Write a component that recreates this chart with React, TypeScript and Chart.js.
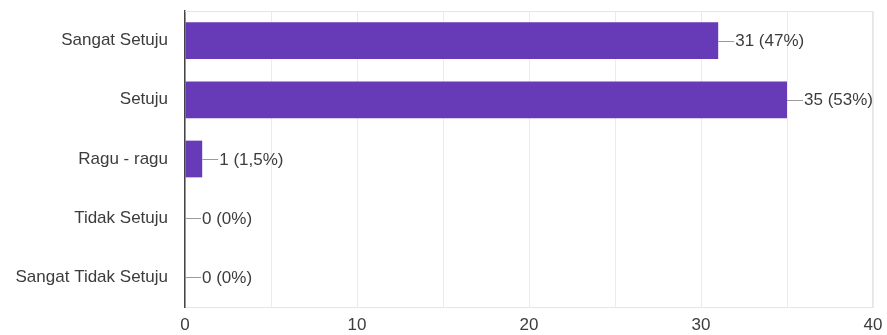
import React, { useEffect, useRef } from "react";
import { Chart, registerables } from "chart.js";

Chart.register(...registerables);

const categories = ["Sangat Setuju", "Setuju", "Ragu - ragu", "Tidak Setuju", "Sangat Tidak Setuju"];
const counts = [31, 35, 1, 0, 0];
const percentLabels = ["47%", "53%", "1,5%", "0%", "0%"];
const xTicks = [0, 10, 20, 30, 40];

const FONT = "Arial, 'Liberation Sans', sans-serif";
const TEXT = "#3c3c3c";

export default function App() {
  const ref = useRef<HTMLCanvasElement | null>(null);
  useEffect(() => {
    document.body.style.margin = "0";
    const canvas = ref.current;
    if (!canvas) return;
    const labelPlugin = {
      id: "valueLabels",
      beforeDatasetsDraw(chart: any) {
        const { ctx, chartArea } = chart;
        ctx.save();
        ctx.strokeStyle = "#e6e6e6";
        ctx.lineWidth = 1;
        ctx.beginPath();
        ctx.moveTo(chartArea.left, chartArea.top + 0.5);
        ctx.lineTo(chartArea.right, chartArea.top + 0.5);
        ctx.moveTo(chartArea.right - 0.5, chartArea.top);
        ctx.lineTo(chartArea.right - 0.5, chartArea.bottom);
        ctx.stroke();
        ctx.restore();
      },
      afterDatasetsDraw(chart: any) {
        const { ctx } = chart;
        const meta = chart.getDatasetMeta(0);
        ctx.save();
        meta.data.forEach((bar: any, i: number) => {
          const x = bar.x;
          const y = Math.round(bar.y) + 0.5;
          ctx.strokeStyle = "#9a9a9a";
          ctx.lineWidth = 1;
          ctx.beginPath();
          ctx.moveTo(x, y);
          ctx.lineTo(x + 16, y);
          ctx.stroke();
          ctx.fillStyle = TEXT;
          ctx.font = `17px ${FONT}`;
          ctx.textBaseline = "middle";
          ctx.textAlign = "left";
          ctx.fillText(`${counts[i]} (${percentLabels[i]})`, x + 17, bar.y + 1);
        });
        ctx.restore();
      },
    };
    const chart = new Chart(canvas, {
      type: "bar",
      data: {
        labels: categories,
        datasets: [
          {
            data: counts,
            backgroundColor: "#673ab7",
            borderWidth: 0,
            barPercentage: 0.62,
            categoryPercentage: 1,
          },
        ],
      },
      options: {
        indexAxis: "y",
        animation: false,
        responsive: false,
        maintainAspectRatio: false,
        layout: { padding: { top: 11, right: 14, left: 0, bottom: 0 } },
        plugins: { legend: { display: false }, tooltip: { enabled: false } },
        scales: {
          x: {
            min: 0,
            max: 40,
            ticks: {
              stepSize: 5,
              autoSkip: false,
              maxRotation: 0,
              padding: 8,
              color: TEXT,
              font: { family: FONT, size: 17 },
              callback: (v: any) => (xTicks.includes(Number(v)) ? String(v) : ""),
            },
            grid: { color: "#ebebeb", drawTicks: false, lineWidth: 1 },
            border: { display: true, color: "#e6e6e6" },
            afterFit: (s: any) => {
              s.height = 28;
              s.paddingLeft = 0;
              s.paddingRight = 0;
            },
          },
          y: {
            ticks: {
              padding: 17,
              color: TEXT,
              font: { family: FONT, size: 17 },
            },
            grid: { display: false, drawTicks: false },
            border: { display: true, color: "#444444", width: 1.5 },
            afterFit: (s: any) => {
              s.width = 185;
              s.paddingTop = 0;
              s.paddingBottom = 0;
            },
          },
        },
      },
      plugins: [labelPlugin],
    });
    return () => chart.destroy();
  }, []);
  return <canvas ref={ref} width={887} height={335} style={{ display: "block" }} />;
}
